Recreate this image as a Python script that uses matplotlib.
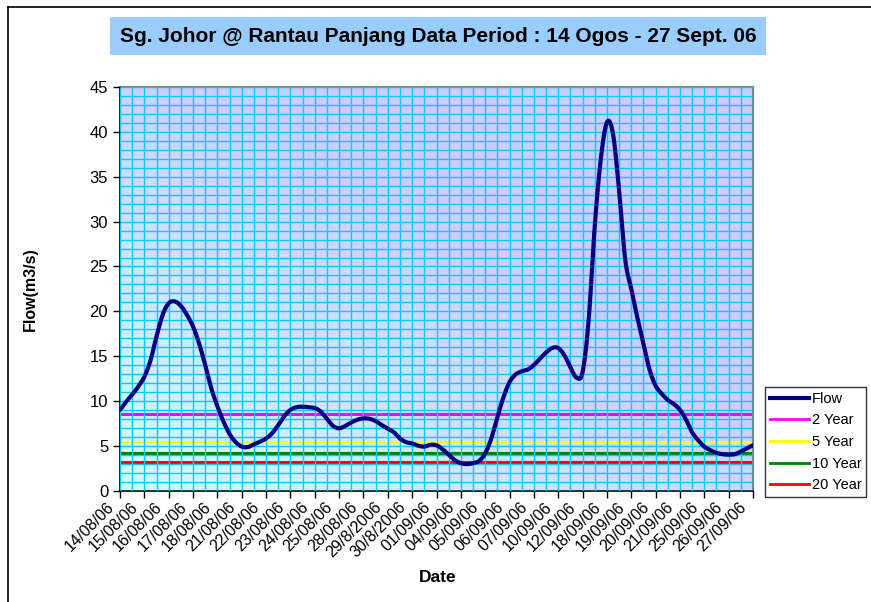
import numpy as np
import matplotlib
matplotlib.use("Agg")
import matplotlib.pyplot as plt
import matplotlib.transforms as mtransforms
from matplotlib.colors import LinearSegmentedColormap
from matplotlib.lines import Line2D

plt.rcParams["font.family"] = ["Liberation Sans", "DejaVu Sans"]

# --- Data ---
dates = ["14/08/06", "15/08/06", "16/08/06", "17/08/06", "18/08/06", "21/08/06",
         "22/08/06", "23/08/06", "24/08/06", "25/08/06", "28/08/06", "29/8/2006",
         "30/8/2006", "01/09/06", "04/09/06", "05/09/06", "06/09/06", "07/09/06",
         "10/09/06", "12/09/06", "18/09/06", "19/09/06", "20/09/06", "21/09/06",
         "25/09/06", "26/09/06", "27/09/06"]

# flow readings, 4 per date step (m3/s)
flow = [9.0, 9.9, 10.7, 11.6,
        12.7, 14.5, 17.2, 19.6,
        20.9, 21.1, 20.6, 19.6,
        18.3, 16.4, 14.0, 11.4,
        9.4, 7.7, 6.3, 5.4,
        4.9, 4.85, 5.15, 5.45,
        5.8, 6.4, 7.3, 8.3,
        9.0, 9.3, 9.35, 9.3,
        9.2, 8.8, 8.0, 7.2,
        6.95, 7.2, 7.6, 7.9,
        8.05, 8.0, 7.75, 7.3,
        6.9, 6.5, 5.8, 5.4,
        5.25, 5.0, 4.9, 5.1,
        5.05, 4.6, 4.0, 3.4,
        3.05, 2.95, 3.05, 3.3,
        4.15, 5.8, 8.2, 10.4,
        12.1, 12.95, 13.3, 13.5,
        14.0, 14.7, 15.4, 15.9,
        15.9, 15.1, 13.75, 12.6,
        13.2, 19.0, 29.5, 37.0,
        41.1, 39.8, 33.5, 25.8,
        22.5, 19.3, 16.4, 13.5,
        11.7, 10.8, 10.1, 9.65,
        9.0, 7.9, 6.5, 5.6,
        4.9, 4.5, 4.2, 4.05,
        4.0, 4.05, 4.35, 4.7,
        5.05]
samples_per_date = 4

# return-period reference levels
levels = {"2 Year": 8.5, "5 Year": 5.4, "10 Year": 4.2, "20 Year": 3.15}
level_colors = {"2 Year": "#FF00FF", "5 Year": "#FFFF00",
                "10 Year": "#008000", "20 Year": "#FF0000"}


def smooth(x, y, n=12):
    # Catmull-Rom spline through the points (like Excel's smoothed line)
    x = np.asarray(x, float)
    y = np.asarray(y, float)
    px = np.concatenate([[2 * x[0] - x[1]], x, [2 * x[-1] - x[-2]]])
    py = np.concatenate([[2 * y[0] - y[1]], y, [2 * y[-1] - y[-2]]])
    xs, ys = [], []
    t = np.linspace(0, 1, n, endpoint=False)
    for i in range(1, len(px) - 2):
        for arr, out in ((px, xs), (py, ys)):
            p0, p1, p2, p3 = arr[i - 1], arr[i], arr[i + 1], arr[i + 2]
            out.extend(0.5 * (2 * p1 + (-p0 + p2) * t
                              + (2 * p0 - 5 * p1 + 4 * p2 - p3) * t ** 2
                              + (-p0 + 3 * p1 - 3 * p2 + p3) * t ** 3))
    xs.append(x[-1])
    ys.append(y[-1])
    return np.array(xs), np.array(ys)


fig = plt.figure(figsize=(8.71, 6.02), dpi=100)
ax = fig.add_axes([0.1378, 0.1852, 0.7267, 0.6698])

xmax = len(dates) - 1
ax.set_xlim(0, xmax)
ax.set_ylim(0, 45)

# gradient plot background
gx, gy = np.meshgrid(np.linspace(0, 1, 200), np.linspace(0, 1, 200))
grad = np.clip((0.9 * gx + gy) / 1.15, 0, 1)
cmap = LinearSegmentedColormap.from_list("bg", ["#CCFFFF", "#CCCCFF"])
ax.imshow(grad, cmap=cmap, origin="lower", aspect="auto",
          extent=[0, xmax, 0, 45], zorder=0)

# grid
ax.set_xticks(np.arange(0, xmax + 0.01, 0.5), minor=True)
ax.set_yticks(np.arange(0, 46, 1), minor=True)
ax.grid(which="both", color="#00CCFF", linewidth=1.0, zorder=1)
ax.set_axisbelow(False)

# reference levels
for name, val in levels.items():
    ax.axhline(val, color=level_colors[name], linewidth=2.2, zorder=2)

# flow curve
fx = np.arange(len(flow)) / samples_per_date
sx, sy = smooth(fx, flow)
ax.plot(sx, sy, color="#000080", linewidth=3, zorder=3, solid_capstyle="round")

# axes styling
ax.set_xticks(range(len(dates)))
ax.set_xticklabels([])
# date labels drawn slightly left of their ticks, as in the original
lbl_tf = ax.get_xaxis_transform() + mtransforms.ScaledTranslation(
    -14 / 100, -9 / 100, fig.dpi_scale_trans)
for i, d in enumerate(dates):
    ax.text(i, 0, d, transform=lbl_tf, rotation=45, ha="right", va="top",
            rotation_mode="anchor", fontsize=11.5, clip_on=False)
ax.set_yticks(range(0, 46, 5))
ax.tick_params(axis="both", which="major", direction="out", length=5,
               width=1)
ax.tick_params(axis="y", which="major", labelsize=12)
ax.tick_params(which="minor", length=0)
for side in ("left", "bottom"):
    ax.spines[side].set_color("black")
    ax.spines[side].set_linewidth(1.2)
for side in ("top", "right"):
    ax.spines[side].set_color("#808080")
    ax.spines[side].set_linewidth(1.5)

ax.set_ylabel("Flow(m3/s)", fontsize=11.5, fontweight="bold", labelpad=37)
fig.text(0.502, 0.04, "Date", fontsize=12.5, fontweight="bold",
         ha="center", va="center")

# title box
fig.text(0.503, 0.94, "Sg. Johor @ Rantau Panjang Data Period : 14 Ogos - 27 Sept. 06",
         fontsize=15, fontweight="bold", ha="center", va="center",
         bbox=dict(boxstyle="square,pad=0.45", facecolor="#99CCFF",
                   edgecolor="none"))

# legend
handles = [Line2D([], [], color="#000080", linewidth=3, label="Flow")]
for name in levels:
    handles.append(Line2D([], [], color=level_colors[name], linewidth=2,
                          label=name))
leg = fig.legend(handles=handles, loc="lower left",
                 bbox_to_anchor=(0.8705, 0.163), fontsize=10.5,
                 frameon=True, fancybox=False, handlelength=2.7,
                 handletextpad=0.2, borderpad=0.3, labelspacing=0.52)
leg.get_frame().set_edgecolor("black")
leg.get_frame().set_linewidth(1.0)

# chart area border (left/top visible)
fig.add_artist(Line2D([0.0092, 0.0092], [0, 0.988], color="black",
                      linewidth=1.2, transform=fig.transFigure))
fig.add_artist(Line2D([0.0092, 1.0], [0.988, 0.988], color="black",
                      linewidth=1.2, transform=fig.transFigure))

fig.savefig("out.png", dpi=100)
